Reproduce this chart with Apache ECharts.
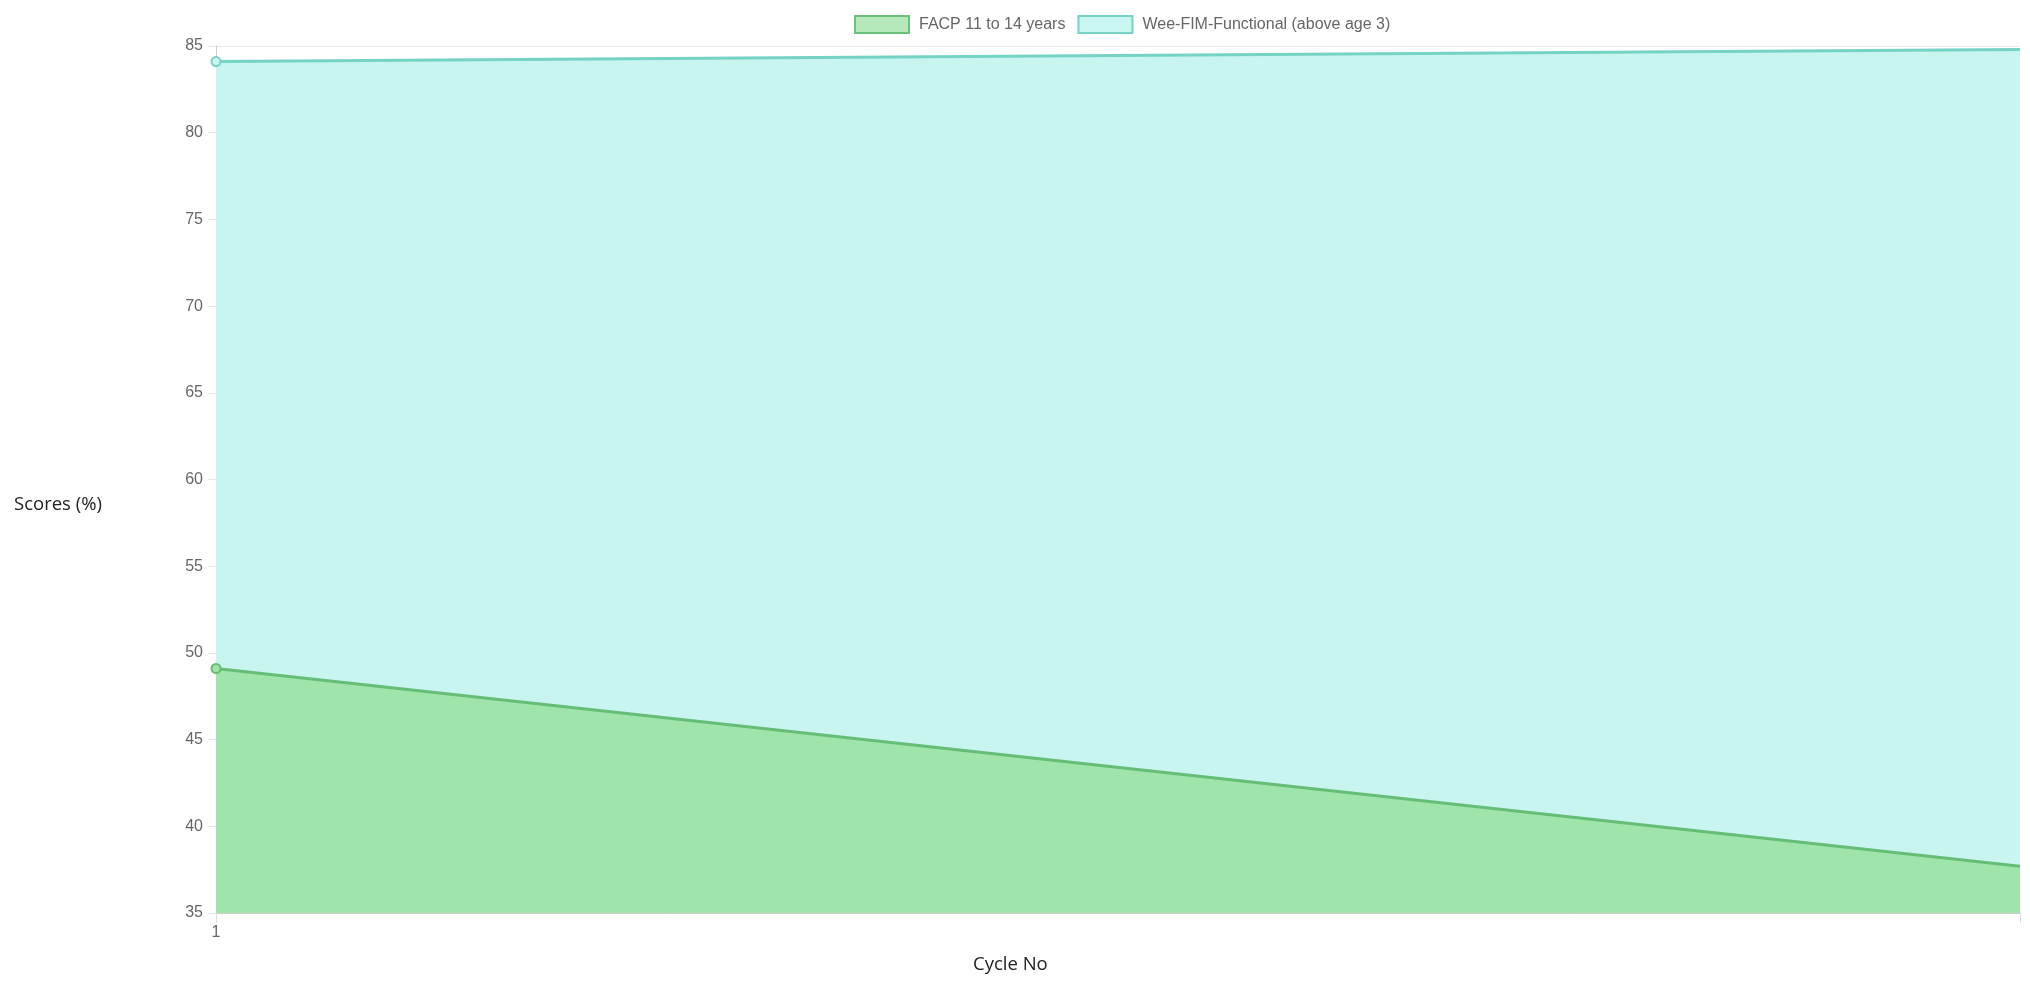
<!DOCTYPE html>
<html>
<head>
<meta charset="utf-8">
<script src="https://cdn.jsdelivr.net/npm/echarts@6/dist/echarts.min.js"></script>
<style>html,body{margin:0;padding:0;background:#fff;}#c{width:2030px;height:983px;}</style>
</head>
<body>
<div id="c"></div>
<script>
const categories = ["1", "2"];
const facpValues = [49.1, 37.7];
const weeFimValues = [84.1, 84.8];
const yTicks = { min: 35, max: 85, interval: 5 };

const chart = echarts.init(document.getElementById('c'));
const symFn = (v, p) => (p.dataIndex === 0 ? 9 : 0);
chart.setOption({
  animation: false,
  grid: { left: 216, right: 10, top: 46, bottom: 70 },
  legend: {
    top: 10, left: 849, icon: 'rect', itemWidth: 54, itemHeight: 17, itemGap: 12,
    textStyle: { color: '#666', fontSize: 16, fontFamily: 'Liberation Sans, Arial', padding: [0, 0, 0, 5] },
    data: [
      { name: 'FACP 11 to 14 years', itemStyle: { color: '#b5e8bb', borderColor: '#6cc07a', borderWidth: 2 } },
      { name: 'Wee-FIM-Functional (above age 3)', itemStyle: { color: '#c9f6f0', borderColor: '#74d3c4', borderWidth: 2 } }
    ]
  },
  graphic: [
    { type: 'text', left: 14, top: 495, style: { text: 'Scores (%)', fontSize: 18.5, fill: '#222', fontFamily: 'Open Sans, Noto Sans' } },
    { type: 'text', left: 973, top: 955, style: { text: 'Cycle No', fontSize: 18.5, fill: '#222', fontFamily: 'Open Sans, Noto Sans' } }
  ],
  xAxis: {
    type: 'category', data: categories, boundaryGap: false,
    axisLine: { lineStyle: { color: '#ccc' } },
    axisTick: { show: true, length: 10, lineStyle: { color: '#ddd' }, interval: 0 },
    axisLabel: { color: '#666', fontSize: 16, fontFamily: 'Liberation Sans, Arial', interval: (i) => i === 0, margin: 12 },
    splitLine: { show: false }
  },
  yAxis: {
    type: 'value', min: yTicks.min, max: yTicks.max, interval: yTicks.interval,
    axisLine: { show: true, lineStyle: { color: '#ccc' } },
    axisTick: { show: true, length: 8, lineStyle: { color: '#e6e6e6' } },
    axisLabel: { color: '#666', fontSize: 16, fontFamily: 'Liberation Sans, Arial', margin: 13 },
    splitLine: { lineStyle: { color: '#ebebeb' } }
  },
  series: [
    {
      name: 'Wee-FIM-Functional (above age 3)', type: 'line', data: weeFimValues,
      symbol: 'circle', symbolSize: symFn, z: 2,
      lineStyle: { color: '#74d3c4', width: 3 },
      itemStyle: { color: '#c9f6f0', borderColor: '#74d3c4', borderWidth: 2 },
      areaStyle: { color: '#c8f5f0', opacity: 1, origin: 'start' }
    },
    {
      name: 'FACP 11 to 14 years', type: 'line', data: facpValues,
      symbol: 'circle', symbolSize: symFn, z: 3,
      lineStyle: { color: '#66bd75', width: 3 },
      itemStyle: { color: '#9fe4ab', borderColor: '#66bd75', borderWidth: 2 },
      areaStyle: { color: '#9fe4ab', opacity: 1, origin: 'start' }
    }
  ]
});
</script>
</body>
</html>
